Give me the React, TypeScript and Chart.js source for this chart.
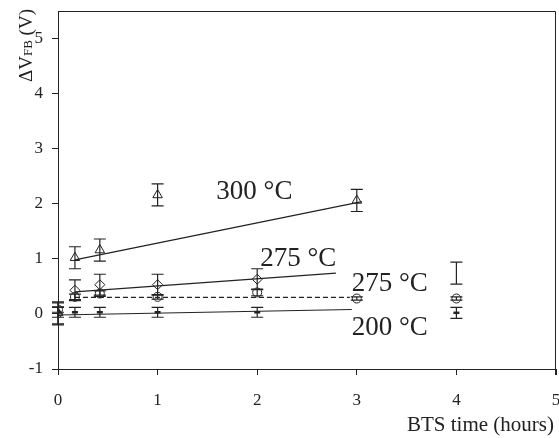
import React, { useEffect, useRef } from "react";
import { Chart, registerables } from "chart.js";

Chart.register(...registerables);

// ---- data (hours, ΔV_FB in volts, error half-width) ----
const hours300 = [0, 0.17, 0.42, 1, 3];
const dvfb300 = [0.02, 1.02, 1.16, 2.16, 2.06];
const err300 = [0.2, 0.2, 0.2, 0.2, 0.2];

const hours300Bar = [4];
const dvfb300Bar = [0.74];
const err300Bar = [0.2];

const hours275d = [0, 0.17, 0.42, 1, 2];
const dvfb275d = [0.0, 0.43, 0.53, 0.53, 0.63];
const err275d = [0.2, 0.19, 0.19, 0.19, 0.19];

const hours275c = [0, 0.17, 0.42, 1, 2, 3, 4];
const dvfb275c = [0.08, 0.31, 0.37, 0.31, 0.39, 0.28, 0.28];
const err275c = [0.05, 0.05, 0.05, 0.04, 0.06, 0.03, 0.03];

const hours200 = [0, 0.17, 0.42, 1, 2, 4];
const dvfb200 = [0.03, 0.03, 0.03, 0.03, 0.03, 0.02];
const err200 = [0.09, 0.09, 0.09, 0.09, 0.09, 0.1];

const fitHours300 = [0.17, 3.05];
const fitDvfb300 = [0.98, 2.04];
const fitHours275d = [0.17, 2.79];
const fitDvfb275d = [0.4, 0.74];
const fitHours275c = [0.17, 2.93];
const fitDvfb275c = [0.3, 0.3];
const fitHours200 = [0, 2.95];
const fitDvfb200 = [-0.02, 0.08];

const xTicks = [0, 1, 2, 3, 4, 5];
const yTicks = [-1, 0, 1, 2, 3, 4, 5];

const labelTexts = ["300 °C", "275 °C", "275 °C", "200 °C"];
const labelHours = [1.59, 2.03, 2.95, 2.95];
const labelDvfb = [2.22, 0.99, 0.55, -0.25];

const INK = "#222";
const SERIF = "'Liberation Serif', 'Times New Roman', serif";

const pts = (xs: number[], ys: number[]) => xs.map((x, i) => ({ x, y: ys[i] }));

const errorSets = [
  { xs: hours300, ys: dvfb300, es: err300 },
  { xs: hours300Bar, ys: dvfb300Bar, es: err300Bar },
  { xs: hours275d, ys: dvfb275d, es: err275d },
  { xs: hours275c, ys: dvfb275c, es: err275c },
  { xs: hours200, ys: dvfb200, es: err200 },
];

const zeroPad = () => ({ left: 0, top: 0, right: 0, bottom: 0 });

const extrasPlugin = {
  id: "extras",
  afterDatasetsDraw(chart: any) {
    const { ctx, chartArea, scales } = chart;
    const sx = scales.x;
    const sy = scales.y;
    ctx.save();
    // error bars
    ctx.strokeStyle = INK;
    ctx.lineWidth = 1.2;
    for (const s of errorSets) {
      s.xs.forEach((x, i) => {
        const px = sx.getPixelForValue(x);
        const top = sy.getPixelForValue(s.ys[i] + s.es[i]);
        const bot = sy.getPixelForValue(s.ys[i] - s.es[i]);
        ctx.beginPath();
        ctx.moveTo(px, top);
        ctx.lineTo(px, bot);
        ctx.moveTo(px - 6, top);
        ctx.lineTo(px + 6, top);
        ctx.moveTo(px - 6, bot);
        ctx.lineTo(px + 6, bot);
        ctx.stroke();
      });
    }
    // frame top/right
    ctx.lineWidth = 1;
    ctx.beginPath();
    ctx.moveTo(chartArea.left, chartArea.top + 0.5);
    ctx.lineTo(chartArea.right - 0.5, chartArea.top + 0.5);
    ctx.lineTo(chartArea.right - 0.5, chartArea.bottom + 6);
    ctx.stroke();
    // curve labels
    ctx.fillStyle = INK;
    ctx.font = `27px ${SERIF}`;
    ctx.textAlign = "left";
    ctx.textBaseline = "middle";
    labelTexts.forEach((t, i) => {
      ctx.fillText(t, sx.getPixelForValue(labelHours[i]), sy.getPixelForValue(labelDvfb[i]));
    });
    // x title
    ctx.font = `21px ${SERIF}`;
    ctx.textAlign = "right";
    ctx.textBaseline = "alphabetic";
    ctx.fillText("BTS time (hours)", 554, 431);
    // y title (rotated, with subscript)
    ctx.translate(32, 82);
    ctx.rotate(-Math.PI / 2);
    ctx.textAlign = "left";
    ctx.font = `19px ${SERIF}`;
    let x = 0;
    ctx.fillText("ΔV", x, 0);
    x += ctx.measureText("ΔV").width;
    ctx.font = `13px ${SERIF}`;
    ctx.fillText("FB", x, 0);
    x += ctx.measureText("FB").width;
    ctx.font = `19px ${SERIF}`;
    ctx.fillText(" (V)", x, 0);
    ctx.restore();
  },
};

export default function App() {
  const ref = useRef<HTMLCanvasElement | null>(null);
  useEffect(() => {
    if (!ref.current) return;
    const lineDs = (xs: number[], ys: number[], dash: number[] = []) => ({
      data: pts(xs, ys),
      showLine: true,
      borderColor: INK,
      borderWidth: 1.2,
      borderDash: dash,
      pointRadius: 0,
      fill: false,
    });
    const markerDs = (xs: number[], ys: number[], style: string, r: number, bw = 1) => ({
      data: pts(xs, ys),
      showLine: false,
      pointStyle: style,
      pointRadius: r,
      borderColor: INK,
      backgroundColor: "rgba(0,0,0,0)",
      pointBorderWidth: bw,
      borderWidth: bw,
    });
    const chart = new Chart(ref.current, {
      type: "scatter",
      data: {
        datasets: [
          lineDs(fitHours300, fitDvfb300),
          lineDs(fitHours275d, fitDvfb275d),
          lineDs(fitHours275c, fitDvfb275c, [5, 3]),
          lineDs(fitHours200, fitDvfb200),
          markerDs(hours300, dvfb300, "triangle", 5.5),
          markerDs(hours275d, dvfb275d, "rectRot", 5),
          markerDs(hours275c, dvfb275c, "circle", 4.5),
          markerDs(hours200, dvfb200, "line", 3, 2.5),
        ] as any,
      },
      options: {
        responsive: false,
        animation: false,
        events: [],
        layout: { autoPadding: false, padding: { top: 11, right: 3, left: 0, bottom: 0 } },
        plugins: { legend: { display: false }, tooltip: { enabled: false } },
        scales: {
          x: {
            type: "linear",
            min: 0,
            max: 5,
            afterBuildTicks: (s: any) => {
              s.ticks = xTicks.map((v) => ({ value: v }));
            },
            afterFit: (s: any) => {
              s.height = 69;
              s.paddingLeft = 0;
              s.paddingRight = 0;
              s.paddingTop = 0;
              s.paddingBottom = 0;
              s.getPadding = zeroPad;
            },
            ticks: {
              color: INK,
              font: { family: SERIF, size: 17 },
              padding: 15,
              maxRotation: 0,
            },
            grid: { drawOnChartArea: false, tickLength: 6, color: INK },
            border: { color: INK, width: 1 },
          },
          y: {
            type: "linear",
            min: -1,
            max: 5.5,
            afterBuildTicks: (s: any) => {
              s.ticks = yTicks.map((v) => ({ value: v }));
            },
            afterFit: (s: any) => {
              s.width = 58;
              s.paddingLeft = 0;
              s.paddingRight = 0;
              s.paddingTop = 0;
              s.paddingBottom = 0;
              s.getPadding = zeroPad;
            },
            ticks: {
              color: INK,
              font: { family: SERIF, size: 17 },
              padding: 9,
            },
            grid: { drawOnChartArea: false, tickLength: 6, color: INK },
            border: { color: INK, width: 1 },
          },
        },
      },
      plugins: [extrasPlugin],
    } as any);
    return () => chart.destroy();
  }, []);
  return (
    <div style={{ position: "absolute", left: 0, top: 0, width: 559, height: 438, background: "#fff" }}>
      <canvas ref={ref} width={559} height={438} />
    </div>
  );
}
